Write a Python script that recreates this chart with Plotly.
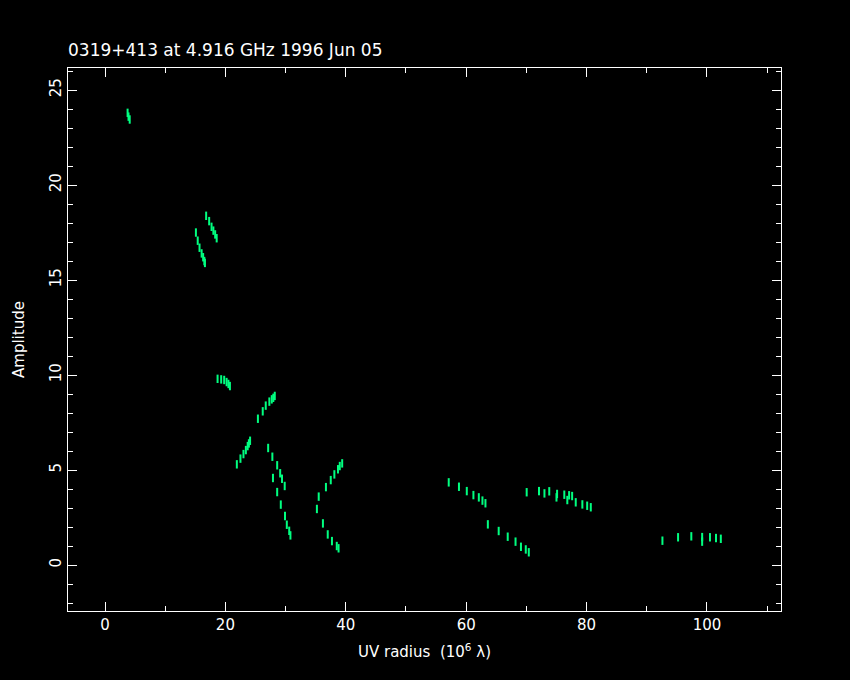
import plotly.graph_objects as go

uv_radius = [3.75, 3.9, 4.1,
             16.8, 17.3, 17.7, 18.0, 18.3, 18.55,
             15.1, 15.4, 15.7, 16.05, 16.3, 16.5, 16.6,
             18.7, 19.3, 19.8, 20.2, 20.5, 20.75,
             25.4, 26.2, 26.7, 27.3, 27.7, 27.96, 28.2,
             21.9, 22.5, 23.0, 23.4, 23.7, 23.9, 24.1,
             27.1, 27.8, 28.6, 29.1, 29.4, 29.85,
             27.9, 28.6, 29.2, 29.9, 30.2, 30.6, 30.8,
             35.5, 35.2, 36.2, 37.0, 37.7, 38.5, 38.8,
             36.7, 37.5, 38.1, 38.7, 39.0, 39.4,
             57.1, 58.8, 60.1, 61.2, 62.1, 62.7, 63.2,
             63.6, 65.4, 66.9, 68.2, 69.1, 69.9, 70.4,
             70.05, 72.1, 73.0, 73.8, 75.1, 76.3, 77.1, 77.6, 76.8, 78.2, 79.3, 80.1, 80.7, 75.0,
             92.6, 95.2, 97.4, 99.2, 99.2, 100.5, 101.5, 102.3]
amplitude = [23.8, 23.6, 23.45,
             18.38, 18.1, 17.8, 17.6, 17.4, 17.2,
             17.5, 17.07, 16.7, 16.4, 16.2, 16.0, 15.9,
             9.8, 9.77, 9.74, 9.63, 9.53, 9.42,
             7.7, 8.09, 8.39, 8.6, 8.72, 8.8, 8.9,
             5.3, 5.6, 5.84, 6.05, 6.26, 6.4, 6.54,
             6.16, 5.7, 5.25, 4.83, 4.54, 4.16,
             4.58, 3.84, 3.18, 2.58, 2.12, 1.8, 1.56,
             3.6, 2.95, 2.19, 1.61, 1.26, 1.0, 0.88,
             4.1, 4.47, 4.77, 5.04, 5.21, 5.35,
             4.35, 4.12, 3.89, 3.68, 3.56, 3.39, 3.25,
             2.14, 1.79, 1.49, 1.23, 0.96, 0.82, 0.67,
             3.83, 3.89, 3.77, 3.88, 3.74, 3.7, 3.67, 3.63, 3.42, 3.3, 3.19, 3.12, 3.04, 3.56,
             1.28, 1.46, 1.51, 1.47, 1.23, 1.46, 1.42, 1.38]

title_text = "0319+413 at 4.916 GHz 1996 Jun 05"
x_label = "UV radius  (10<sup>6</sup> λ)"
y_label = "Amplitude"

FONT = "DejaVu Sans"
GREEN = "#00ff80"

fig = go.Figure()
fig.add_trace(go.Scatter(
    x=uv_radius, y=amplitude, mode="markers",
    marker=dict(symbol="line-ns-open", size=6, color=GREEN,
                line=dict(color=GREEN, width=2)),
    showlegend=False,
))

axis_common = dict(
    showline=True, linecolor="white", linewidth=1, mirror="allticks",
    ticks="inside", tickcolor="white", ticklen=9, tickwidth=1,
    showgrid=False, zeroline=False,
    tickfont=dict(family=FONT, size=15, color="white"),
)

fig.update_layout(
    width=850, height=680,
    paper_bgcolor="black", plot_bgcolor="black",
    margin=dict(l=68, r=69, t=68, b=69),
    title=dict(text=title_text, x=68/850, xanchor="left", y=1 - 50/680, yanchor="middle",
               font=dict(family=FONT, size=17, color="white")),
    xaxis=dict(range=[-6.15, 112.3], dtick=20, tick0=0,
               minor=dict(dtick=10, ticks="inside", ticklen=5, tickcolor="white"),
               title=dict(text=x_label, font=dict(family=FONT, size=15, color="white"),
                          standoff=13),
               **axis_common),
    yaxis=dict(range=[-2.42, 26.16], dtick=5, tick0=0, tickangle=-90,
               minor=dict(dtick=1, ticks="inside", ticklen=5, tickcolor="white"),
               title=dict(text=y_label, font=dict(family=FONT, size=15, color="white"),
                          standoff=18),
               **axis_common),
)

fig.write_html(
    "out.html",
    config={"displayModeBar": False},
    post_script="document.body.style.margin='0';document.body.style.background='black';",
)
